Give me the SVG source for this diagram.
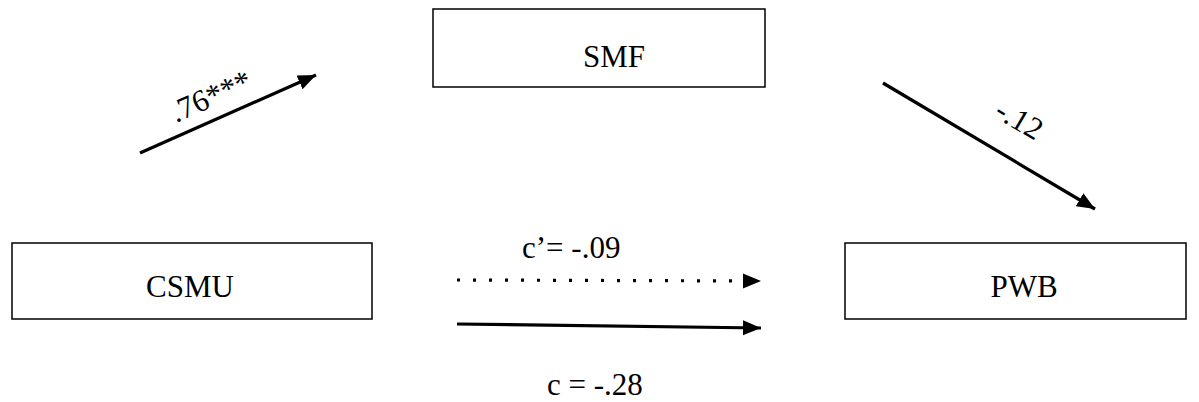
<svg xmlns="http://www.w3.org/2000/svg" width="1199" height="402" viewBox="0 0 1199 402">
<style>
.box{fill:#fff;stroke:#000;stroke-width:1.5}
.t{font-family:"Liberation Serif","Times New Roman",serif;font-size:31px;fill:#000}
.c{stroke:#000;stroke-width:3.2;fill:none}
</style>
<defs>
<marker id="ah" markerUnits="userSpaceOnUse" markerWidth="19" markerHeight="16" refX="18" refY="7.5" orient="auto" viewBox="0 0 19 16">
<path d="M0,0 L18,7.5 L0,15 z" fill="#000"/>
</marker>
</defs>
<rect width="1199" height="402" fill="#fff"/>
<g id="smf">
<rect class="box" x="433" y="9" width="332" height="78"/>
<text class="t" x="614" y="67" text-anchor="middle">SMF</text>
</g>
<g id="csmu">
<rect class="box" x="12" y="243" width="360" height="76"/>
<text class="t" x="190" y="297" text-anchor="middle">CSMU</text>
</g>
<g id="pwb">
<rect class="box" x="845" y="243" width="341" height="76"/>
<text class="t" x="1024" y="297" text-anchor="middle">PWB</text>
</g>
<g id="connectors">
<line class="c" x1="140" y1="153" x2="316" y2="75" marker-end="url(#ah)"/>
<line class="c" x1="883" y1="83" x2="1095" y2="209" marker-end="url(#ah)"/>
<line class="c" x1="457" y1="280" x2="761" y2="281" stroke-dasharray="3 13" marker-end="url(#ah)"/>
<line class="c" x1="457" y1="324" x2="761" y2="328" marker-end="url(#ah)"/>
<text class="t" transform="translate(176,123) rotate(-23.8)">.76***</text>
<text class="t" transform="translate(993,116) rotate(30.5)">-.12</text>
<text class="t" x="522" y="258">c’= -.09</text>
<text class="t" x="547" y="395">c = -.28</text>
</g>
</svg>
